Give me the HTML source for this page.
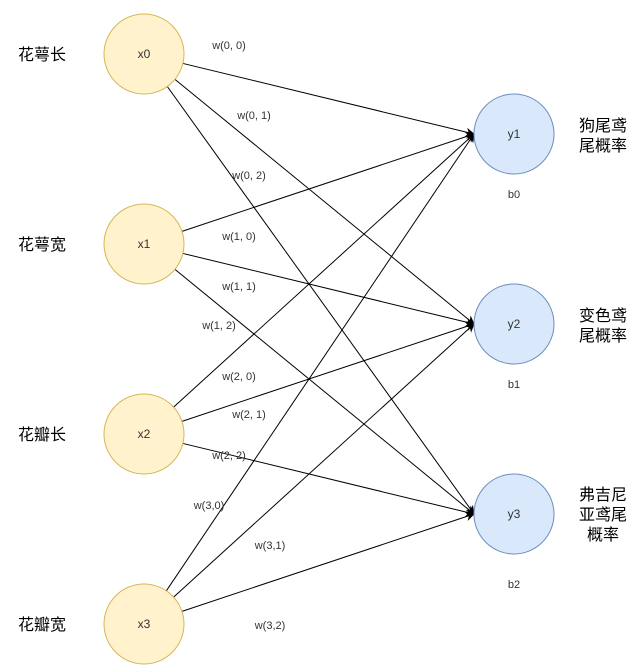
<!DOCTYPE html>
<html><head><meta charset="utf-8"><style>
body{margin:0;background:#fff;width:642px;height:672px;overflow:hidden}
svg{display:block}
text{font-family:"Liberation Sans","Noto Sans CJK SC",sans-serif}
</style></head><body>
<svg id="s" width="642" height="672" xmlns="http://www.w3.org/2000/svg">
<defs><marker id="a" viewBox="0 0 10 10" refX="9" refY="5" markerWidth="10" markerHeight="9" orient="auto" markerUnits="userSpaceOnUse"><path d="M0,0 L10,5 L0,10 L3,5 z" fill="#000"/></marker></defs>
<g id="edges" stroke="#000" stroke-width="1" fill="none"></g>
<g fill="#fff2cc" stroke="#d6b656">
<circle cx="144" cy="54" r="40"/><circle cx="144" cy="244" r="40"/><circle cx="144" cy="434" r="40"/><circle cx="144" cy="624" r="40"/>
</g>
<g fill="#dae8fc" stroke="#6c8ebf">
<circle cx="514" cy="134" r="40"/><circle cx="514" cy="324" r="40"/><circle cx="514" cy="514" r="40"/>
</g>
<g font-size="12" fill="#333" text-anchor="middle">
<text x="144" y="58">x0</text><text x="144" y="248">x1</text><text x="144" y="438">x2</text><text x="144" y="628">x3</text>
<text x="514" y="138">y1</text><text x="514" y="328">y2</text><text x="514" y="518">y3</text>
</g>
<g font-size="11" fill="#333" text-anchor="middle">
<text x="514" y="198">b0</text><text x="514" y="388">b1</text><text x="514" y="588">b2</text>
<text x="229" y="49">w(0, 0)</text><text x="254" y="119">w(0, 1)</text><text x="249" y="179">w(0, 2)</text>
<text x="239" y="240">w(1, 0)</text><text x="239" y="290">w(1, 1)</text><text x="219" y="329">w(1, 2)</text>
<text x="239" y="380">w(2, 0)</text><text x="249" y="418">w(2, 1)</text><text x="229" y="459">w(2, 2)</text>
<text x="209" y="509">w(3,0)</text><text x="270" y="549">w(3,1)</text><text x="270" y="629">w(3,2)</text>
</g>
<g font-size="16" fill="#000">
<text x="18" y="60">花萼长</text><text x="18" y="250">花萼宽</text><text x="18" y="440">花瓣长</text><text x="18" y="630">花瓣宽</text>
</g>
<g font-size="16" fill="#000" text-anchor="middle">
<text x="603" y="131">狗尾鸢</text><text x="603" y="151">尾概率</text>
<text x="603" y="321">变色鸢</text><text x="603" y="341">尾概率</text>
<text x="603" y="500">弗吉尼</text><text x="603" y="520">亚鸢尾</text><text x="603" y="540">概率</text>
</g>
</svg>
<script>
var g=document.getElementById('edges'),xs=[54,244,434,624],ys=[134,324,514];
xs.forEach(function(y0){ys.forEach(function(y1){
var dx=474-144,dy=y1-y0,l=Math.sqrt(dx*dx+dy*dy);
var p=document.createElementNS('http://www.w3.org/2000/svg','line');
p.setAttribute('x1',144+dx/l*40);p.setAttribute('y1',y0+dy/l*40);
p.setAttribute('x2',474);p.setAttribute('y2',y1);p.setAttribute('marker-end','url(#a)');
g.appendChild(p);});});
</script>
</body></html>
